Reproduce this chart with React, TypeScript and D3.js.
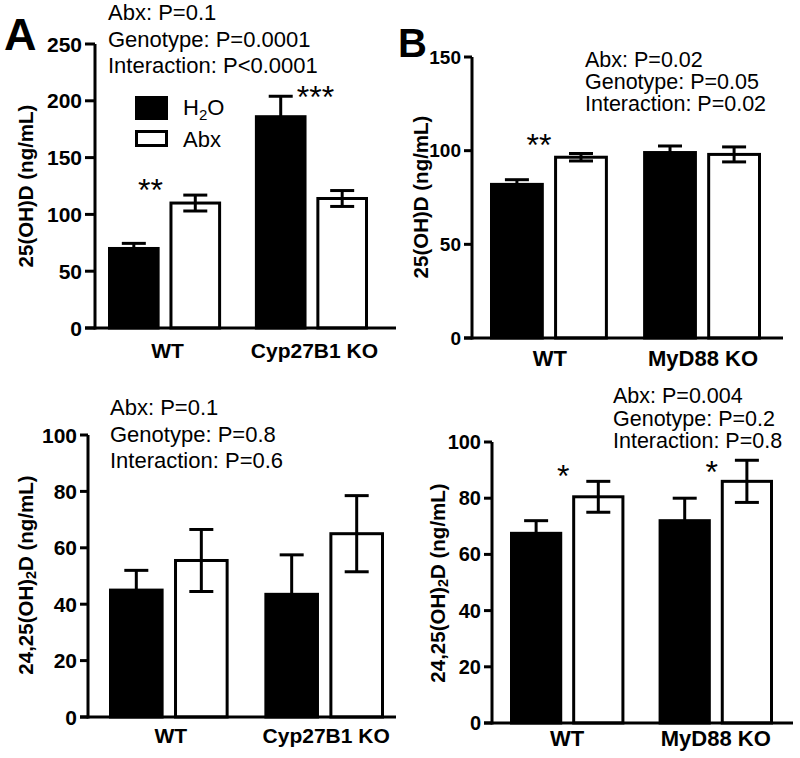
import React from "react";
import * as d3 from "d3";

// ---------------- DATA ----------------
const seriesNames = ["H2O", "Abx"];

// Panel A: 25(OH)D, WT vs Cyp27B1 KO
const aCategories = ["WT", "Cyp27B1 KO"];
const aH2O = [70, 186];
const aH2OErr = [4.5, 18];
const aAbx = [110, 114];
const aAbxErr = [7, 7];
const aTicks = [0, 50, 100, 150, 200, 250];
const aStats = ["Abx: P=0.1", "Genotype: P=0.0001", "Interaction: P<0.0001"];
const aSigText = ["**", "***"];
const aSigValue = [128, 210];

// Panel B: 25(OH)D, WT vs MyD88 KO
const bCategories = ["WT", "MyD88 KO"];
const bH2O = [82, 99];
const bH2OErr = [2.5, 3.5];
const bAbx = [96.5, 98];
const bAbxErr = [2, 4];
const bTicks = [0, 50, 100, 150];
const bStats = ["Abx: P=0.02", "Genotype: P=0.05", "Interaction: P=0.02"];
const bSigText = ["**", ""];
const bSigValue = [107, 0];

// Panel C: 24,25(OH)2D, WT vs Cyp27B1 KO
const cCategories = ["WT", "Cyp27B1 KO"];
const cH2O = [45, 43.5];
const cH2OErr = [7, 14];
const cAbx = [55.5, 65];
const cAbxErr = [11, 13.5];
const cTicks = [0, 20, 40, 60, 80, 100];
const cStats = ["Abx: P=0.1", "Genotype: P=0.8", "Interaction: P=0.6"];
const cSigText = ["", ""];
const cSigValue = [0, 0];

// Panel D: 24,25(OH)2D, WT vs MyD88 KO
const dCategories = ["WT", "MyD88 KO"];
const dH2O = [67.5, 72];
const dH2OErr = [4.5, 8];
const dAbx = [80.5, 86];
const dAbxErr = [5.5, 7.5];
const dTicks = [0, 20, 40, 60, 80, 100];
const dStats = ["Abx: P=0.004", "Genotype: P=0.2", "Interaction: P=0.8"];
const dSigText = ["*", "*"];
const dSigValue = [90.5, 92];

const FONT = "'Liberation Sans', Arial, Helvetica, sans-serif";

type PanelProps = {
  categories: string[];
  h2o: number[];
  h2oErr: number[];
  abx: number[];
  abxErr: number[];
  ticks: number[];
  stats: string[];
  sigText: string[];
  sigValue: number[];
  layout: any;
};

function YLabel({ x, y, size, sub }: { x: number; y: number; size: number; sub: boolean }) {
  return (
    <text
      transform={`translate(${x},${y}) rotate(-90)`}
      textAnchor="middle"
      dominantBaseline="central"
      fontFamily={FONT}
      fontWeight="bold"
      fontSize={size}
    >
      {sub ? (
        <>
          24,25(OH)
          <tspan fontSize={size * 0.7} dy={size * 0.3}>2</tspan>
          <tspan dy={-size * 0.3}>D (ng/mL)</tspan>
        </>
      ) : (
        "25(OH)D (ng/mL)"
      )}
    </text>
  );
}

function Panel(p: PanelProps) {
  const L = p.layout;
  const yMax = p.ticks[p.ticks.length - 1];
  const y = d3.scaleLinear().domain([0, yMax]).range([L.y0, L.yTop]);
  const xg = d3.scaleBand<string>().domain(p.categories).range([L.barStart, L.barEnd]).paddingInner(L.groupPad).paddingOuter(0);
  const xs = d3.scaleBand<string>().domain(seriesNames).range([0, xg.bandwidth()]).paddingInner(L.barPad).paddingOuter(0);
  const sw = 3;
  const bars: any[] = [];
  p.categories.forEach((c, i) => {
    seriesNames.forEach((s) => {
      const v = s === "H2O" ? p.h2o[i] : p.abx[i];
      const e = s === "H2O" ? p.h2oErr[i] : p.abxErr[i];
      bars.push({ c, s, v, e, x: (xg(c) as number) + (xs(s) as number), w: xs.bandwidth() });
    });
  });
  const capHalf = 12;
  const sigSize = 32;
  return (
    <g>
      {/* bars */}
      {bars.map((b, k) => (
        <rect
          key={"b" + k}
          x={b.x + sw / 2}
          y={y(b.v)}
          width={b.w - sw}
          height={L.y0 - y(b.v)}
          fill={b.s === "H2O" ? "#000" : "#fff"}
          stroke="#000"
          strokeWidth={sw}
        />
      ))}
      {/* error bars */}
      {bars.map((b, k) => {
        const cx = b.x + b.w / 2;
        return (
          <g key={"e" + k} stroke="#000" strokeWidth={sw}>
            <line x1={cx} x2={cx} y1={y(b.v - b.e)} y2={y(b.v + b.e)} />
            <line x1={cx - capHalf} x2={cx + capHalf} y1={y(b.v + b.e)} y2={y(b.v + b.e)} />
            <line x1={cx - capHalf} x2={cx + capHalf} y1={y(b.v - b.e)} y2={y(b.v - b.e)} />
          </g>
        );
      })}
      {/* axes */}
      <line x1={L.axisX} x2={L.axisX} y1={L.y0 + sw / 2} y2={y(yMax)} stroke="#000" strokeWidth={sw} />
      <line x1={L.axisX - L.tickLen} x2={L.xEnd} y1={L.y0} y2={L.y0} stroke="#000" strokeWidth={sw} />
      {p.ticks.map((t) => (
        <g key={"t" + t}>
          <line x1={L.axisX - L.tickLen} x2={L.axisX} y1={y(t)} y2={y(t)} stroke="#000" strokeWidth={sw} />
          <text
            x={L.axisX - L.tickLen - 3}
            y={y(t)}
            textAnchor="end"
            dominantBaseline="central"
            fontFamily={FONT}
            fontWeight="bold"
            fontSize={L.tickFont}
          >
            {t}
          </text>
        </g>
      ))}
      {/* category labels */}
      {p.categories.map((c) => (
        <text
          key={"c" + c}
          x={(xg(c) as number) + xg.bandwidth() / 2 + L.catDx}
          y={L.catY}
          textAnchor="middle"
          fontFamily={FONT}
          fontWeight="bold"
          fontSize={L.catFont}
        >
          {c}
        </text>
      ))}
      {/* significance stars */}
      {p.sigText.map((s, i) =>
        s ? (
          <text
            key={"s" + i}
            x={(xg(p.categories[i]) as number) + xg.bandwidth() / 2 + L.sigDx[i]}
            y={y(p.sigValue[i]) + sigSize * 0.57}
            textAnchor="middle"
            fontFamily={FONT}
            fontSize={sigSize}
          >
            {s}
          </text>
        ) : null
      )}
      {/* stats text */}
      {p.stats.map((s, i) => (
        <text key={"p" + i} x={L.statX} y={L.statY + i * L.statDy} fontFamily={FONT} fontSize={L.statFont}>
          {s}
        </text>
      ))}
      <YLabel x={L.yLabelX} y={L.yLabelY} size={20.5} sub={L.sub} />
      {L.letter ? (
        <text x={L.letterX} y={L.letterY} fontFamily={FONT} fontWeight="bold" fontSize={L.letterSize}>
          {L.letter}
        </text>
      ) : null}
    </g>
  );
}

const layoutA = {
  y0: 328, yTop: 44, axisX: 95, tickLen: 10, xEnd: 396, barStart: 108, barEnd: 368,
  groupPad: 0.23, barPad: 0.16, tickFont: 21, catY: 358, catFont: 21, catDx: 3,
  sigDx: [-14, 4], statX: 108, statY: 20, statDy: 26.5, statFont: 22, yLabelX: 25, yLabelY: 186, sub: false,
  letter: "A", letterX: 4, letterY: 50, letterSize: 45,
};
const layoutB = {
  y0: 338, yTop: 57, axisX: 472, tickLen: 8, xEnd: 783, barStart: 490, barEnd: 761,
  groupPad: 0.23, barPad: 0.16, tickFont: 19, catY: 366, catFont: 22, catDx: 1,
  sigDx: [-10, 0], statX: 585, statY: 67, statDy: 21.8, statFont: 21.5, yLabelX: 420, yLabelY: 197, sub: false,
  letter: "B", letterX: 398, letterY: 57, letterSize: 40,
};
const layoutC = {
  y0: 717, yTop: 435, axisX: 88, tickLen: 8, xEnd: 396, barStart: 109, barEnd: 384,
  groupPad: 0.23, barPad: 0.16, tickFont: 21, catY: 743, catFont: 21, catDx: 2,
  sigDx: [0, 0], statX: 110, statY: 415, statDy: 26.5, statFont: 22, yLabelX: 25, yLabelY: 575, sub: true,
  letter: "", letterX: 0, letterY: 0, letterSize: 0,
};
const layoutD = {
  y0: 723, yTop: 442, axisX: 492, tickLen: 8, xEnd: 793, barStart: 510, barEnd: 773,
  groupPad: 0.23, barPad: 0.16, tickFont: 20, catY: 746, catFont: 22, catDx: 0,
  sigDx: [-4, -4], statX: 613, statY: 403, statDy: 22.5, statFont: 21.5, yLabelX: 437, yLabelY: 583, sub: true,
  letter: "", letterX: 0, letterY: 0, letterSize: 0,
};

function Legend() {
  const items = seriesNames.map((s, i) => ({ s, i }));
  return (
    <g>
      <rect x={136.5} y={97.5} width={30} height={21} fill="#000" stroke="#000" strokeWidth={3} />
      <rect x={136.5} y={131.5} width={30} height={14} fill="#fff" stroke="#000" strokeWidth={3} />
      {items.map(({ s, i }) => (
        <text key={s} x={183} y={i === 0 ? 115 : 147} fontFamily={FONT} fontSize={22}>
          {s === "H2O" ? (
            <>
              H<tspan fontSize={15} dy={5}>2</tspan>
              <tspan dy={-5}>O</tspan>
            </>
          ) : (
            s
          )}
        </text>
      ))}
    </g>
  );
}

export default function App() {
  return (
    <svg
      width={800}
      height={758}
      style={{ position: "absolute", left: 0, top: 0, background: "#fff" }}
    >
      <rect width={800} height={758} fill="#fff" />
      <Panel categories={aCategories} h2o={aH2O} h2oErr={aH2OErr} abx={aAbx} abxErr={aAbxErr} ticks={aTicks} stats={aStats} sigText={aSigText} sigValue={aSigValue} layout={layoutA} />
      <Legend />
      <Panel categories={bCategories} h2o={bH2O} h2oErr={bH2OErr} abx={bAbx} abxErr={bAbxErr} ticks={bTicks} stats={bStats} sigText={bSigText} sigValue={bSigValue} layout={layoutB} />
      <Panel categories={cCategories} h2o={cH2O} h2oErr={cH2OErr} abx={cAbx} abxErr={cAbxErr} ticks={cTicks} stats={cStats} sigText={cSigText} sigValue={cSigValue} layout={layoutC} />
      <Panel categories={dCategories} h2o={dH2O} h2oErr={dH2OErr} abx={dAbx} abxErr={dAbxErr} ticks={dTicks} stats={dStats} sigText={dSigText} sigValue={dSigValue} layout={layoutD} />
    </svg>
  );
}
